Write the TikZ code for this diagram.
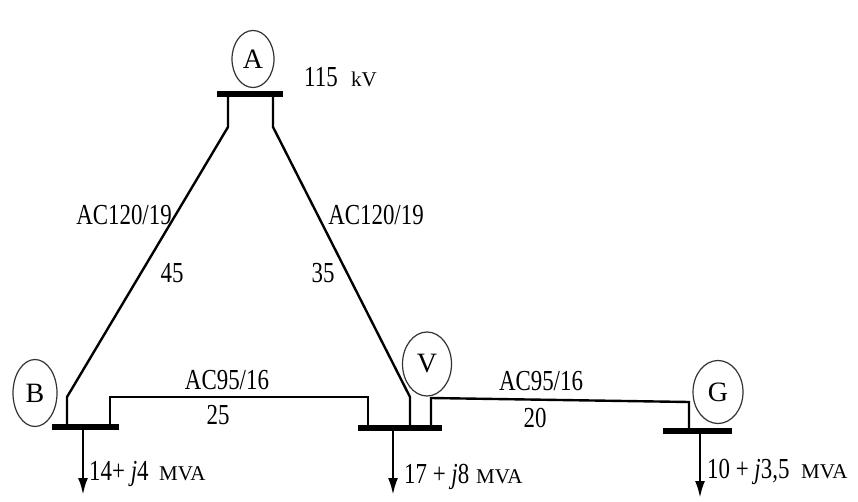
\documentclass[tikz,border=0pt]{standalone}
\usepackage{fontspec}
\setmainfont{Liberation Serif}
\usepackage{graphicx}
\usetikzlibrary{arrows.meta,shapes.geometric}
\newcommand{\cnd}[1]{\scalebox{0.79}[1]{#1}}
\newcommand{\fs}[1]{\fontsize{#1}{#1}\selectfont}
\tikzset{
  bus/.style={rectangle,fill=black,inner sep=0pt,minimum height=6.5pt},
  busname/.style={ellipse,draw=black!80,line width=1.2pt,inner sep=0pt,font=\fs{28}},
  line/.style={line width=2.4pt,line join=miter},
  load/.style={line width=2.6pt,-{Latex[length=17pt,width=10pt]}},
  lbl/.style={inner sep=0pt,font=\fs{29}},
  unit/.style={inner sep=0pt,font=\fs{21},anchor=base west},
}
\begin{document}
\begin{tikzpicture}[x=1pt,y=-1pt]
\useasboundingbox[fill=white] (0,0) rectangle (858,502);
% buses
\node[bus,minimum width=66pt] (busA) at (250,94) {};
\node[bus,minimum width=67pt] (busB) at (85.5,427) {};
\node[bus,minimum width=84pt] (busV) at (400,428) {};
\node[bus,minimum width=69pt] (busG) at (697.5,431) {};
% bus names
\node[busname,minimum width=42pt,minimum height=57pt] (nA) at (253,59) {A};
\node[busname,minimum width=44pt,minimum height=67pt] (nB) at (35,393) {B};
\node[busname,minimum width=49pt,minimum height=64pt] (nV) at (427,364) {V};
\node[busname,minimum width=50pt,minimum height=63pt] (nG) at (718,392) {G};
% coordinates
\coordinate (a1) at (228,94);  \coordinate (a1b) at (228,127);
\coordinate (b1t) at (67,397); \coordinate (b1) at (67,427);
\coordinate (a2) at (273,94);  \coordinate (a2b) at (273,127);
\coordinate (v1t) at (410,397); \coordinate (v1) at (410,428);
\coordinate (b2) at (110,427); \coordinate (b2t) at (110,397);
\coordinate (v2t) at (368,397); \coordinate (v2) at (368,428);
\coordinate (v3) at (431,428); \coordinate (v3t) at (431,398);
\coordinate (g1t) at (689,402); \coordinate (g1) at (689,431);
\coordinate (lb0) at (83,427); \coordinate (lb1) at (83,495);
\coordinate (lv0) at (393,428); \coordinate (lv1) at (393,495);
\coordinate (lg0) at (700,431); \coordinate (lg1) at (700,498);
% lines
\draw[line] (a1) -- (a1b) -- (b1t) -- (b1);
\draw[line] (a2) -- (a2b) -- (v1t) -- (v1);
\draw[line] (b2) -- (b2t) -- (v2t) -- (v2);
\draw[line] (v3) -- (v3t) -- (g1t) -- (g1);
% loads
\draw[load] (lb0) -- (lb1);
\draw[load] (lv0) -- (lv1);
\draw[load] (lg0) -- (lg1);
% labels
\node[lbl,anchor=base west] (kv1) at (304,87) {\cnd{115}};
\node[unit] (kv2) at (351,87) {kV};
\node[lbl] (l1) at (124,215) {\cnd{AC120/19}};
\node[lbl] (l1n) at (172,273) {\cnd{45}};
\node[lbl] (l2) at (376,215) {\cnd{AC120/19}};
\node[lbl] (l2n) at (323,273) {\cnd{35}};
\node[lbl] (l3) at (227,380) {\cnd{AC95/16}};
\node[lbl] (l3n) at (218,415) {\cnd{25}};
\node[lbl] (l4) at (541,381) {\cnd{AC95/16}};
\node[lbl] (l4n) at (535,418) {\cnd{20}};
\node[lbl,anchor=base west] (pb) at (89,480) {\cnd{14+ \textit{j}4}};
\node[unit] (pbu) at (159,480) {MVA};
\node[lbl,anchor=base west] (pv) at (404,483) {\cnd{17 + \textit{j}8}};
\node[unit] (pvu) at (476,483) {MVA};
\node[lbl,anchor=base west] (pg) at (707,478) {\cnd{10 + \textit{j}3,5}};
\node[unit] (pgu) at (801,478) {MVA};
\end{tikzpicture}
\end{document}
